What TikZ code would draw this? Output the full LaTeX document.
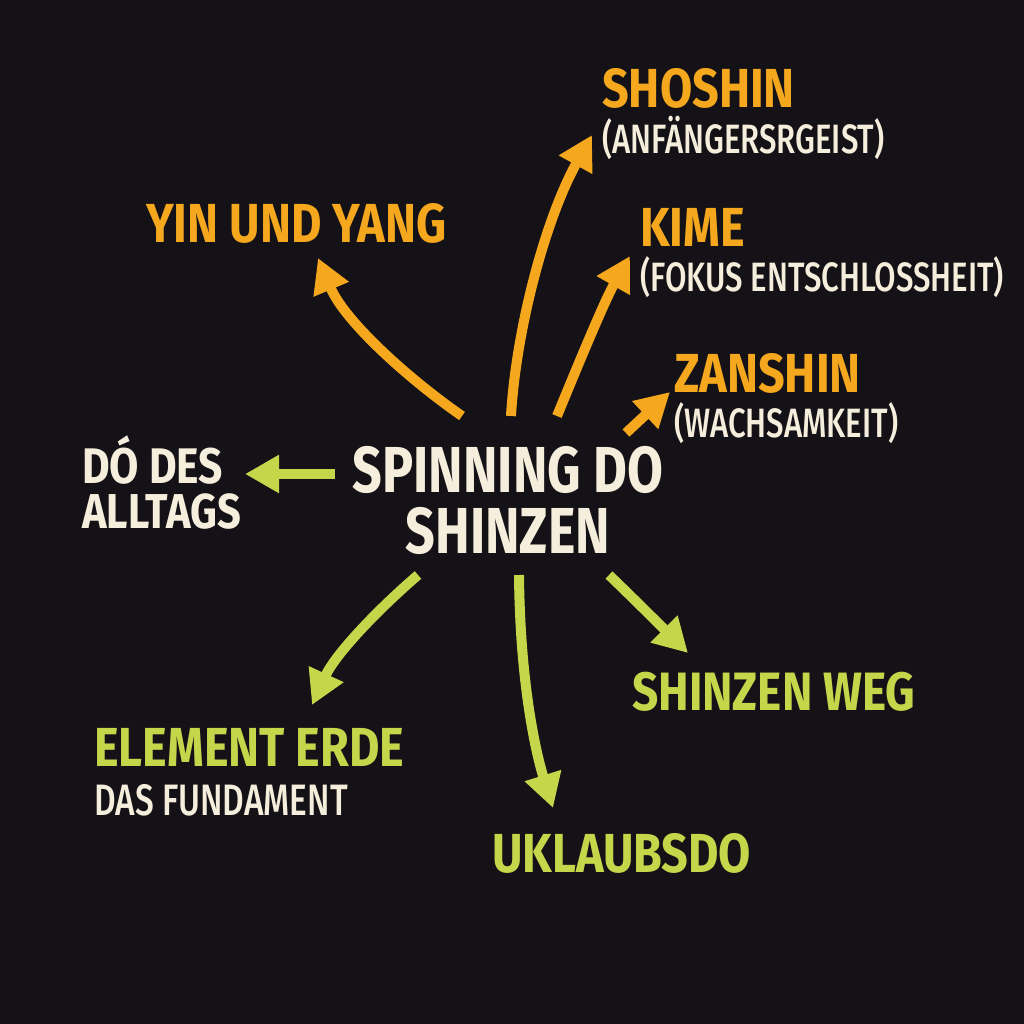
\documentclass[tikz,border=0pt]{standalone}
\usepackage{fontspec}
\setmainfont{Fira Sans}[FakeStretch=0.8]
\newfontfamily\headfont{Fira Sans}[FakeStretch=0.85]
\newfontfamily\subfont{Fira Sans}[UprightFont=* Medium, FakeStretch=0.76]
\usepackage{xcolor}
\usepackage{tikz}
\usetikzlibrary{arrows.meta, positioning}

\definecolor{bgdark}{HTML}{141216}
\definecolor{amber}{HTML}{F5A81E}
\definecolor{lime}{HTML}{C6D64B}
\definecolor{cream}{HTML}{F6EEDC}

\begin{document}
\begin{tikzpicture}[x=1pt, y=-1pt, >={Triangle[length=34pt, width=36pt]}]
\tikzstyle{hub}  = [text=cream, anchor=base, inner sep=0, font=\fontsize{65}{65}\selectfont\bfseries]
\tikzstyle{head} = [anchor=base west, inner sep=0, font=\headfont\fontsize{55}{55}\selectfont\bfseries]
\tikzstyle{sub}  = [anchor=base west, inner sep=0, text=cream, font=\subfont\fontsize{41}{41}\selectfont]
\tikzstyle{warm} = [draw=amber, line width=10pt, ->]
\tikzstyle{cool} = [draw=lime, line width=10pt, ->]

% background
\fill[bgdark] (0,0) rectangle (1024,1024);
\useasboundingbox (0,0) rectangle (1024,1024);

% centre
\node[hub]			at (508, 492)	(hub)	{SPINNING DO};
\node[hub]			at (508, 553)	(hubb)	{SHINZEN};

% labels
\node[head, text=amber]	at (602, 108)	(shoshin)	{SHOSHIN};
\node[sub]			at (602, 154)	(shoshinb)	{(ANFÄNGERSRGEIST)};
\node[head, text=amber]	at (146, 243)	(yin)		{YIN UND YANG};
\node[head, text=amber]	at (640, 246)	(kime)		{KIME};
\node[sub]			at (640, 291)	(kimeb)		{(FOKUS ENTSCHLOSSHEIT)};
\node[head, text=amber]	at (674, 392)	(zanshin)	{ZANSHIN};
\node[sub]			at (674, 437)	(zanshinb)	{(WACHSAMKEIT)};
\node[head, text=cream, font=\headfont\fontsize{50}{50}\selectfont\bfseries]	at (82, 483)	(alltag)	{DÓ DES};
\node[head, text=cream, font=\headfont\fontsize{49}{49}\selectfont\bfseries]	at (82, 528)	(alltagb)	{ALLTAGS};
\node[head, text=lime, font=\headfont\fontsize{54}{54}\selectfont\bfseries]	at (632, 710)	(weg)	{SHINZEN WEG};
\node[head, text=lime]	at (94, 766)	(erde)		{ELEMENT ERDE};
\node[sub, font=\subfont\fontsize{44}{44}\selectfont]	at (94, 815)	(erdeb)	{DAS FUNDAMENT};
\node[head, text=lime]	at (492, 872)	(urlaub)	{UKLAUBSDO};

% arrow ends
\coordinate (yin-s)	at (462, 416);	\coordinate (yin-e)	at (318, 258);
\coordinate (sho-s)	at (511, 416);	\coordinate (sho-e)	at (592, 135);
\coordinate (kim-s)	at (557, 416);	\coordinate (kim-e)	at (630, 256);
\coordinate (zan-s)	at (626, 433);	\coordinate (zan-e)	at (670, 392);
\coordinate (all-s)	at (335, 474);	\coordinate (all-e)	at (245, 474);
\coordinate (erd-s)	at (418, 575);	\coordinate (erd-e)	at (312, 705);
\coordinate (url-s)	at (519, 575);	\coordinate (url-e)	at (553, 808);
\coordinate (weg-s)	at (609, 575);	\coordinate (weg-e)	at (688, 653);

\draw[warm] (yin-s) .. controls (410, 380) and (345, 322) .. (yin-e);
\draw[warm] (sho-s) .. controls (516, 330) and (545, 220) .. (sho-e);
\draw[warm] (kim-s) .. controls (580, 360) and (605, 300) .. (kim-e);
\draw[warm] (zan-s) -- (zan-e);
\draw[cool] (all-s) -- (all-e);
\draw[cool] (erd-s) .. controls (375, 612) and (335, 655) .. (erd-e);
\draw[cool] (url-s) .. controls (520, 680) and (535, 750) .. (url-e);
\draw[cool] (weg-s) .. controls (635, 600) and (665, 630) .. (weg-e);
\end{tikzpicture}
\end{document}
